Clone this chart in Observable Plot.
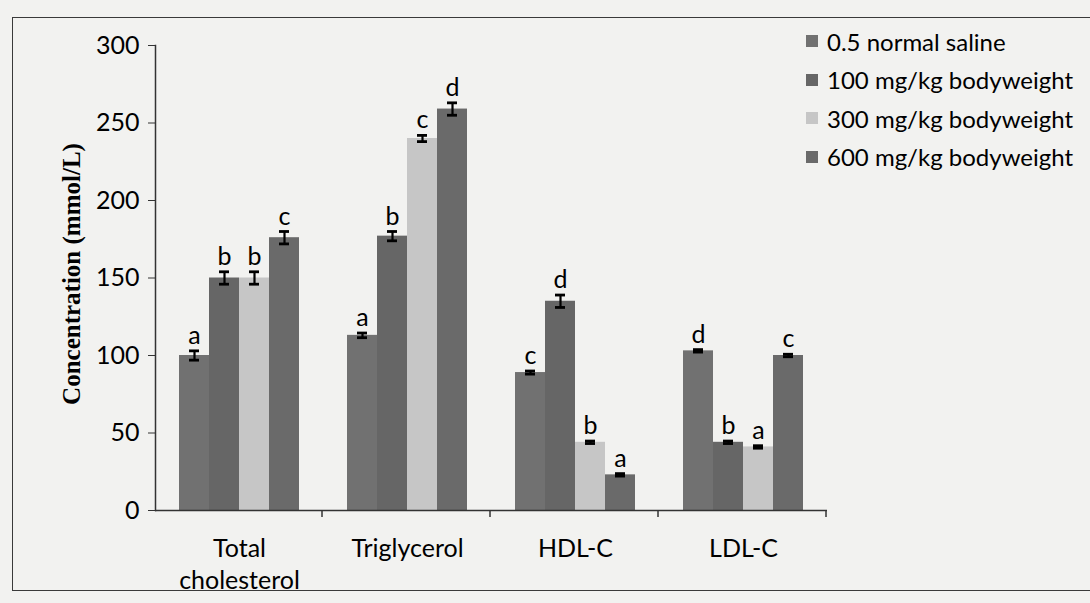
<!DOCTYPE html>
<html><head><meta charset="utf-8">
<script src="https://cdn.jsdelivr.net/npm/d3@7"></script>
<script src="https://cdn.jsdelivr.net/npm/@observablehq/plot@0.6"></script>
<style>
html,body{margin:0;padding:0;background:#f2f2f0;}
#wrap{position:relative;width:1090px;height:603px;overflow:hidden;font-family:Lato,sans-serif;}
#wrap svg{position:absolute;left:0;top:0;}
#frame{position:absolute;left:12px;top:17px;width:1100px;height:572px;border:1.5px solid #3a3a3a;}
#ylabel{position:absolute;left:72px;top:274px;transform:translate(-50%,-50%) rotate(-90deg);font-family:"Liberation Serif",serif;font-weight:bold;font-size:25px;white-space:nowrap;color:#000}
#legend{position:absolute;left:806px;top:22px;}
.item{display:flex;align-items:center;height:38.5px;font-size:24px;color:#000}
.sw{width:12px;height:12px;margin-right:9px}
</style></head><body><div id="wrap"><div id="frame"></div><div id="ylabel">Concentration (mmol/L)</div><div id="legend"></div></div>
<script>
const categories = ["Total cholesterol", "Triglycerol", "HDL-C", "LDL-C"];
const categoryLabels = ["Total\ncholesterol", "Triglycerol", "HDL-C", "LDL-C"];
const series = ["0.5 normal saline", "100 mg/kg bodyweight", "300 mg/kg bodyweight", "600 mg/kg bodyweight"];
const colors = ["#717171", "#666666", "#c6c6c6", "#6a6a6a"];
const yTicks = [0, 50, 100, 150, 200, 250, 300];

// values per series, in category order
const salineValues = [100, 113, 89, 103];
const mg100Values  = [150, 177, 135, 44];
const mg300Values  = [150, 240, 44, 41];
const mg600Values  = [176, 259, 23, 100];

const salineErr = [3, 1.5, 1, 0.8];
const mg100Err  = [4, 3, 4, 0.8];
const mg300Err  = [4, 2, 0.8, 0.8];
const mg600Err  = [4, 4, 0.8, 0.8];

const salineLetters = ["a", "a", "c", "d"];
const mg100Letters  = ["b", "b", "d", "b"];
const mg300Letters  = ["b", "c", "b", "a"];
const mg600Letters  = ["c", "d", "a", "c"];

const valueSets = [salineValues, mg100Values, mg300Values, mg600Values];
const errSets = [salineErr, mg100Err, mg300Err, mg600Err];
const letterSets = [salineLetters, mg100Letters, mg300Letters, mg600Letters];

const rows = [];
categories.forEach((c, ci) => series.forEach((s, si) => rows.push({
  category: c, series: s, value: valueSets[si][ci], err: errSets[si][ci], letter: letterSets[si][ci]
})));

const facetW = (1090 - 155 - 263) / categories.length;
const outerPad = 0.71;
const band = facetW / (series.length + 2 * outerPad);
const edgeOffset = band / 2 + outerPad * band;

const plot = Plot.plot({
  width: 1090, height: 603,
  marginLeft: 155, marginRight: 263, marginTop: 45, marginBottom: 93,
  style: {background: "transparent", fontFamily: "Lato, sans-serif", fontSize: "24px", color: "#000"},
  fx: {domain: categories, paddingInner: 0, paddingOuter: 0, axis: null},
  x: {domain: series, paddingInner: 0, paddingOuter: outerPad, axis: null},
  y: {domain: [0, 300], axis: null},
  color: {domain: series, range: colors},
  marks: [
    Plot.barY(rows, {fx: "category", x: "series", y: "value", fill: "series"}),
    Plot.ruleX(rows, {fx: "category", x: "series", y1: d => d.value - d.err, y2: d => d.value + d.err, stroke: "#000", strokeWidth: 2.2}),
    Plot.tickY(rows, {fx: "category", x: "series", y: d => d.value + d.err, stroke: "#000", strokeWidth: 2.8, insetLeft: 10, insetRight: 10}),
    Plot.tickY(rows, {fx: "category", x: "series", y: d => d.value - d.err, stroke: "#000", strokeWidth: 2.8, insetLeft: 10, insetRight: 10}),
    Plot.text(rows, {fx: "category", x: "series", y: d => d.value + d.err, text: "letter", lineAnchor: "bottom", dy: -7, fontSize: 25, fill: "#000"}),
    Plot.ruleY([0], {stroke: "#333", strokeWidth: 1.5}),
    Plot.ruleX(categories, {fx: d => d, x: () => series[series.length - 1], dx: edgeOffset, y1: 0, y2: -4.5, stroke: "#333", strokeWidth: 1.5}),
    Plot.frame({anchor: "left", facetAnchor: "left", stroke: "#333", strokeWidth: 1.5}),
    Plot.axisY({ticks: yTicks, tickSize: 7, tickPadding: 9, fontSize: 25, label: null, stroke: "#333", fill: "#000"}),
    Plot.text(categories, {fx: d => d, text: categoryLabels, frameAnchor: "bottom", lineAnchor: "top", dy: 23, lineHeight: 1.3, fontSize: 25, fill: "#000"})
  ]
});
document.getElementById("wrap").appendChild(plot);

const legend = document.getElementById("legend");
series.forEach((s, i) => {
  const item = document.createElement("div");
  item.className = "item";
  const sw = document.createElement("span");
  sw.className = "sw";
  sw.style.background = colors[i];
  const t = document.createElement("span");
  t.textContent = s;
  item.appendChild(sw); item.appendChild(t);
  legend.appendChild(item);
});
</script></body></html>
